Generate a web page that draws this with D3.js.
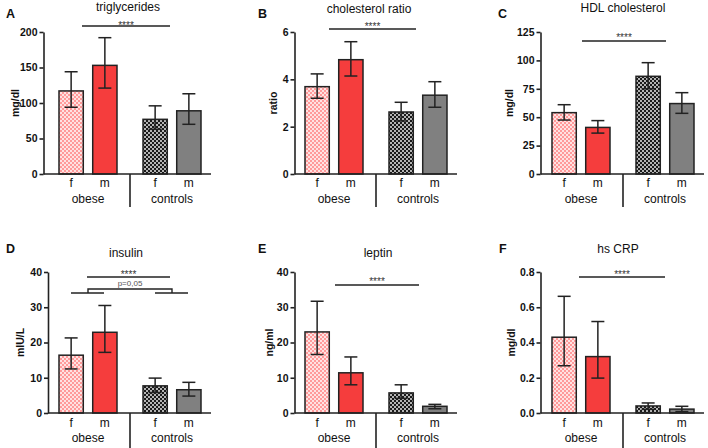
<!DOCTYPE html>
<html>
<head>
<meta charset="utf-8">
<script src="https://cdn.jsdelivr.net/npm/d3@7/dist/d3.min.js"></script>
<style>
  html, body { margin: 0; padding: 0; background: #fff; }
  svg { display: block; font-family: "Liberation Sans", Arial, sans-serif; }
</style>
</head>
<body>
<svg id="chart" width="708" height="448"></svg>
<script>
// ---------- data ----------
const groups = ["obese", "controls"];
const sexes = ["f", "m"];

const tgMean = [117, 153, 77, 89];
const tgLow = [94, 121, 63, 70];
const tgHigh = [144, 192, 96, 113];
const tgTicks = [0, 50, 100, 150, 200];

const ratioMean = [3.69, 4.83, 2.62, 3.33];
const ratioLow = [3.2, 4.14, 2.24, 2.82];
const ratioHigh = [4.23, 5.59, 3.03, 3.9];
const ratioTicks = [0, 2, 4, 6];

const hdlMean = [54, 41, 86, 62];
const hdlLow = [47.5, 36, 75, 53.4];
const hdlHigh = [61, 47, 98, 71.6];
const hdlTicks = [0, 25, 50, 75, 100, 125];

const insMean = [16.4, 22.9, 7.7, 6.6];
const insLow = [12.5, 17.2, 5.8, 4.8];
const insHigh = [21.3, 30.5, 9.9, 8.7];
const insTicks = [0, 10, 20, 30, 40];

const lepMean = [23.0, 11.4, 5.7, 1.9];
const lepLow = [16.6, 8.0, 4.15, 1.2];
const lepHigh = [31.7, 15.9, 8.0, 2.45];
const lepTicks = [0, 10, 20, 30, 40];

const crpMean = [0.43, 0.32, 0.04, 0.022];
const crpLow = [0.268, 0.198, 0.021, 0.008];
const crpHigh = [0.662, 0.519, 0.057, 0.038];
const crpTicks = [0, 0.2, 0.4, 0.6, 0.8];

const panelLetters = ["A", "B", "C", "D", "E", "F"];
const panelTitles = ["triglycerides", "cholesterol ratio", "HDL cholesterol", "insulin", "leptin", "hs CRP"];
const panelUnits = ["mg/dl", "ratio", "mg/dl", "mIU/L", "ng/ml", "mg/dl"];
const sigLabel = "****";
const insulinSubLabel = "p=0,05";

// ---------- layout (positions only) ----------
const panels = [
  { mean: tgMean, low: tgLow, high: tgHigh, ticks: tgTicks, fmt: d3.format("d"),
    row: 0, x0: 59, axisX: 43.5, ylabX: 15, titleX: 128, titleY: 10.5, letX: 6, sig: [82, 170, 26, 22.5] },
  { mean: ratioMean, low: ratioLow, high: ratioHigh, ticks: ratioTicks, fmt: d3.format("d"),
    row: 0, x0: 305, axisX: 294.5, ylabX: 273, titleX: 369, titleY: 13, letX: 258, sig: [329, 416, 29, 24] },
  { mean: hdlMean, low: hdlLow, high: hdlHigh, ticks: hdlTicks, fmt: d3.format("d"),
    row: 0, x0: 552, axisX: 540.5, ylabX: 509, titleX: 623, titleY: 11.5, letX: 498, sig: [582, 666, 41, 35] },
  { mean: insMean, low: insLow, high: insHigh, ticks: insTicks, fmt: d3.format("d"),
    row: 1, x0: 59, axisX: 48, ylabX: 20, titleX: 126, titleY: 257, letX: 6, sig: [87, 170, 277, 272], bracket: true },
  { mean: lepMean, low: lepLow, high: lepHigh, ticks: lepTicks, fmt: d3.format("d"),
    row: 1, x0: 305, axisX: 294.5, ylabX: 269, titleX: 378, titleY: 257, letX: 258, sig: [335, 419, 285, 279] },
  { mean: crpMean, low: crpLow, high: crpHigh, ticks: crpTicks, fmt: d3.format(".1f"),
    row: 1, x0: 552, axisX: 540.5, ylabX: 511, titleX: 618, titleY: 253, letX: 499, sig: [579, 665, 277, 272] }
];
const rows = [
  { yTop: 32, yBot: 174, catY: 187, grpY: 203, sepEnd: 207, letY: 17.5 },
  { yTop: 272, yBot: 413, catY: 427, grpY: 442, sepEnd: 448, letY: 252.5 }
];

const svg = d3.select("#chart");

// ---------- patterns ----------
const defs = svg.append("defs");
const pk = defs.append("pattern").attr("id", "pinkCheck").attr("patternUnits", "userSpaceOnUse")
  .attr("width", 4).attr("height", 4);
pk.append("rect").attr("width", 4).attr("height", 4).attr("fill", "#ff9a9a");
pk.append("rect").attr("width", 2).attr("height", 2).attr("fill", "#ffe2e2");
pk.append("rect").attr("x", 2).attr("y", 2).attr("width", 2).attr("height", 2).attr("fill", "#ffe2e2");
const dk = defs.append("pattern").attr("id", "darkCheck").attr("patternUnits", "userSpaceOnUse")
  .attr("width", 4).attr("height", 4);
dk.append("rect").attr("width", 4).attr("height", 4).attr("fill", "#1a1a1a");
dk.append("rect").attr("width", 2).attr("height", 2).attr("fill", "#b4b4b4");
dk.append("rect").attr("x", 2).attr("y", 2).attr("width", 2).attr("height", 2).attr("fill", "#b4b4b4");

const fills = {
  "obese-f": "url(#pinkCheck)",
  "obese-m": "#f53d3d",
  "controls-f": "url(#darkCheck)",
  "controls-m": "#808080"
};

const ink = "#222";

panels.forEach((p, i) => {
  const r = rows[p.row];
  const g = svg.append("g");

  const xGroup = d3.scaleBand().domain(groups).range([p.x0 - 13, p.x0 - 13 + 168]);
  const xSex = d3.scaleBand().domain(sexes).range([13, 71]).paddingInner(0.28);
  const y = d3.scaleLinear().domain([0, d3.max(p.ticks)]).range([r.yBot, r.yTop]);

  const data = [];
  groups.forEach((gr, gi) => sexes.forEach((s, si) => {
    const k = gi * 2 + si;
    data.push({ group: gr, sex: s, mean: p.mean[k], low: p.low[k], high: p.high[k] });
  }));
  const bx = d => xGroup(d.group) + xSex(d.sex);
  const bw = xSex.bandwidth();

  // bars
  g.selectAll("rect.bar").data(data).join("rect")
    .attr("class", "bar")
    .attr("x", bx)
    .attr("y", d => y(d.mean))
    .attr("width", bw)
    .attr("height", d => y(0) - y(d.mean))
    .attr("fill", d => fills[d.group + "-" + d.sex])
    .attr("stroke", ink)
    .attr("stroke-width", 1.5);

  // error bars
  const cap = 6.5;
  const eb = g.selectAll("g.err").data(data).join("g").attr("class", "err")
    .attr("stroke", ink).attr("stroke-width", 1.5);
  eb.append("line")
    .attr("x1", d => bx(d) + bw / 2).attr("x2", d => bx(d) + bw / 2)
    .attr("y1", d => y(d.low)).attr("y2", d => y(d.high));
  eb.append("line")
    .attr("x1", d => bx(d) + bw / 2 - cap).attr("x2", d => bx(d) + bw / 2 + cap)
    .attr("y1", d => y(d.high)).attr("y2", d => y(d.high));
  eb.append("line")
    .attr("x1", d => bx(d) + bw / 2 - cap).attr("x2", d => bx(d) + bw / 2 + cap)
    .attr("y1", d => y(d.low)).attr("y2", d => y(d.low));

  // y axis
  const ax = g.append("g").attr("transform", `translate(${p.axisX},0)`)
    .call(d3.axisLeft(y).tickValues(p.ticks).tickFormat(p.fmt).tickSize(4).tickSizeOuter(0).tickPadding(2));
  ax.select(".domain").attr("stroke", ink).attr("stroke-width", 1.6);
  ax.selectAll(".tick line").attr("stroke", ink).attr("stroke-width", 1.6);
  ax.selectAll(".tick text").attr("fill", "#111").style("font-size", "10.5px").style("font-weight", "bold")
    .style("font-family", "'Liberation Sans', Arial, sans-serif");

  // x axis line
  const xEnd = xGroup("controls") + xSex("m") + bw + 10;
  g.append("line").attr("x1", p.axisX).attr("x2", xEnd).attr("y1", r.yBot).attr("y2", r.yBot)
    .attr("stroke", ink).attr("stroke-width", 1.6);
  // group separator
  const sepX = xGroup("controls");
  g.append("line").attr("x1", sepX).attr("x2", sepX).attr("y1", r.yBot).attr("y2", r.sepEnd)
    .attr("stroke", ink).attr("stroke-width", 1.6);

  // category labels
  g.selectAll("text.cat").data(data).join("text").attr("class", "cat")
    .attr("x", d => bx(d) + bw / 2).attr("y", r.catY)
    .attr("text-anchor", "middle").style("font-size", "12px").attr("fill", "#111")
    .text(d => d.sex);
  g.selectAll("text.grp").data(groups).join("text").attr("class", "grp")
    .attr("x", d => xGroup(d) + 13 + 29).attr("y", r.grpY)
    .attr("text-anchor", "middle").style("font-size", "12px").attr("fill", "#111")
    .text(d => d);

  // y label
  g.append("text")
    .attr("transform", `translate(${p.ylabX},${(r.yTop + r.yBot) / 2}) rotate(-90)`)
    .attr("dy", "0.35em")
    .attr("text-anchor", "middle").style("font-size", "10.5px").style("font-weight", "bold").attr("fill", "#111")
    .text(panelUnits[i]);

  // title
  g.append("text").attr("x", p.titleX).attr("y", p.titleY)
    .attr("text-anchor", "middle").style("font-size", "12px").attr("fill", "#111")
    .text(panelTitles[i]);

  // panel letter
  g.append("text").attr("x", p.letX).attr("y", r.letY)
    .style("font-size", "12.5px").style("font-weight", "bold").attr("fill", "#111")
    .text(panelLetters[i]);

  // significance line
  const [sx1, sx2, sy, starY] = p.sig;
  g.append("line").attr("x1", sx1).attr("x2", sx2).attr("y1", sy).attr("y2", sy)
    .attr("stroke", ink).attr("stroke-width", 1.4);
  g.append("text").attr("x", (sx1 + sx2) / 2).attr("y", starY + 6)
    .attr("text-anchor", "middle").style("font-size", "10px").attr("fill", "#333")
    .text(sigLabel);

  if (p.bracket) {
    const cO = xGroup("obese") + 13 + 29;
    const cC = xGroup("controls") + 13 + 29;
    const by = 289, dy = 4;
    const bk = g.append("g").attr("stroke", ink).attr("stroke-width", 1.4).attr("fill", "none");
    bk.append("path").attr("d",
      `M${cO},${by + dy}V${by}H${cC}V${by + dy}`);
    bk.append("line").attr("x1", cO - 17).attr("x2", cO + 16).attr("y1", by + dy).attr("y2", by + dy);
    bk.append("line").attr("x1", cC - 17).attr("x2", cC + 16).attr("y1", by + dy).attr("y2", by + dy);
    g.append("text").attr("x", (cO + cC) / 2).attr("y", by - 3)
      .attr("text-anchor", "middle").style("font-size", "8px").attr("fill", "#555")
      .text(insulinSubLabel);
  }
});
</script>
</body>
</html>
